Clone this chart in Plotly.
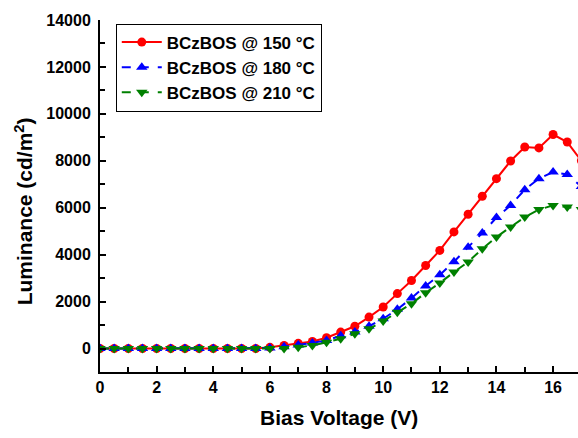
import plotly.graph_objects as go

# Bias voltage sweep (V)
voltage = [i * 0.5 for i in range(35)]

# Luminance (cd/m^2) for each annealing temperature
lum_150 = [0, 0, 0, 0, 0, 0, 0, 0, 0, 0, 0, 0, 50, 130, 220, 300, 460, 700, 950,
           1340, 1770, 2340, 2900, 3540, 4180, 4970, 5720, 6490, 7240, 7990,
           8590, 8550, 9120, 8800, 8000]
lum_180 = [0, 0, 0, 0, 0, 0, 0, 0, 0, 0, 0, 0, 20, 80, 150, 240, 340, 550, 700,
           950, 1270, 1670, 2150, 2670, 3140, 3700, 4320, 4920, 5580, 6100,
           6770, 7240, 7520, 7420, 6900]
lum_210 = [0, 0, 0, 0, 0, 0, 0, 0, 0, 0, 0, 0, 0, 0, 60, 130, 270, 420, 630,
           840, 1170, 1550, 1910, 2380, 2790, 3260, 3690, 4250, 4750, 5180,
           5600, 5920, 6100, 6030, 5920]

series_names = ["BCzBOS @ 150 °C", "BCzBOS @ 180 °C", "BCzBOS @ 210 °C"]

x_ticks = [0, 2, 4, 6, 8, 10, 12, 14, 16]
y_ticks = [0, 2000, 4000, 6000, 8000, 10000, 12000, 14000]

font_family = "Liberation Sans, Arial, sans-serif"

fig = go.Figure()
fig.add_trace(go.Scatter(
    x=voltage, y=lum_150, name=series_names[0], mode="lines+markers",
    line=dict(color="#ff0000", width=2),
    marker=dict(symbol="circle", size=9, color="#ff0000"),
))
fig.add_trace(go.Scatter(
    x=voltage, y=lum_180, name=series_names[1], mode="lines+markers",
    line=dict(color="#0000ff", width=2, dash="dash"),
    marker=dict(symbol="triangle-up", size=10, color="#0000ff"),
))
fig.add_trace(go.Scatter(
    x=voltage, y=lum_210, name=series_names[2], mode="lines+markers",
    line=dict(color="#008000", width=2, dash="dash"),
    marker=dict(symbol="triangle-down", size=10, color="#008000"),
))

axis_common = dict(
    showgrid=False, zeroline=False, showline=True, linecolor="black",
    linewidth=2, ticks="inside", ticklen=6, tickwidth=2, tickcolor="black",
    tickfont=dict(family=font_family, size=16, color="black", weight="bold"),
    minor=dict(ticks="inside", ticklen=5, tickwidth=2, tickcolor="black"),
)

fig.update_xaxes(
    **axis_common,
    range=[0, 16.88], tickvals=x_ticks, ticktext=[str(v) for v in x_ticks],
)
fig.update_xaxes(minor_dtick=1)
fig.update_yaxes(
    **axis_common,
    range=[-1000, 14000], tickvals=y_ticks, ticktext=[str(v) for v in y_ticks],
    ticklabelstandoff=4,
)
fig.update_yaxes(minor_dtick=1000, minor_tick0=-1000)

title_font = dict(family=font_family, size=21, color="black", weight="bold")

# Axis titles
fig.add_annotation(
    text="Bias Voltage (V)", xref="paper", yref="paper",
    x=0.5, y=-0.13, xanchor="center", yanchor="middle",
    showarrow=False, font=title_font,
)
fig.add_annotation(
    text="Luminance (cd/m<sup>2</sup>)", xref="paper", yref="paper",
    x=-0.16, y=0.455, xanchor="center", yanchor="middle", textangle=-90,
    showarrow=False, font=title_font,
)

fig.update_layout(
    width=578, height=438,
    margin=dict(l=100, r=0, t=20, b=66),
    plot_bgcolor="white", paper_bgcolor="white",
    font=dict(family=font_family, color="black"),
    legend=dict(
        x=0.033, y=0.99, xanchor="left", yanchor="top",
        bordercolor="black", borderwidth=1, bgcolor="white",
        font=dict(family=font_family, size=17, color="black", weight="bold"),
        tracegroupgap=0, itemwidth=40,
    ),
)

fig.write_html("out.html")
